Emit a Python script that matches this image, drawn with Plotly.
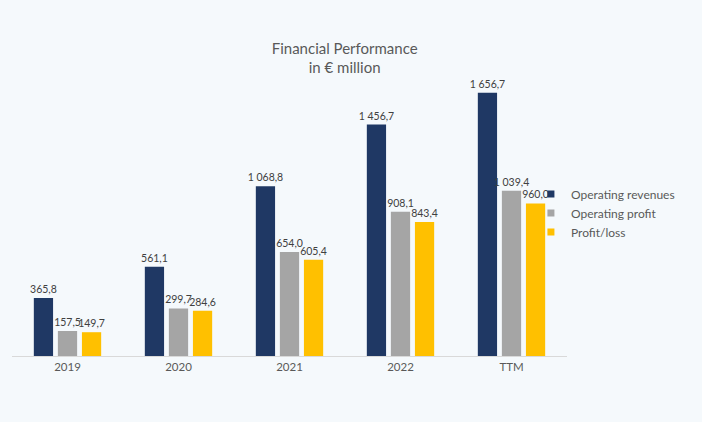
import plotly.graph_objects as go

categories = ["2019", "2020", "2021", "2022", "TTM"]
operating_revenues = [365.8, 561.1, 1068.8, 1456.7, 1656.7]
operating_profit = [157.5, 299.7, 654.0, 908.1, 1039.4]
profit_loss = [149.7, 284.6, 605.4, 843.4, 960.0]

series = [
    ("Operating revenues", operating_revenues, "#1F3864"),
    ("Operating profit", operating_profit, "#A5A5A5"),
    ("Profit/loss", profit_loss, "#FFC000"),
]


def fmt(v):
    # European style: space for thousands, comma for decimals
    return f"{v:,.1f}".replace(",", " ").replace(".", ",")


fig = go.Figure()
for name, values, colour in series:
    fig.add_trace(go.Bar(
        x=categories,
        y=values,
        name=name,
        showlegend=False,
        marker=dict(color=colour, line=dict(width=0)),
        text=[fmt(v) for v in values],
        textposition="outside",
        constraintext="none",
        textfont=dict(size=10.5, color="#404040"),
        cliponaxis=False,
        hoverinfo="skip",
    ))

# small square legend keys, like the original
for name, values, colour in series:
    fig.add_trace(go.Scatter(
        x=[None], y=[None],
        mode="markers",
        name=name,
        marker=dict(symbol="square", size=7, color=colour),
    ))

fig.update_layout(
    width=702,
    height=422,
    paper_bgcolor="#F5F9FC",
    plot_bgcolor="#F5F9FC",
    font=dict(family="Lato, 'Open Sans', sans-serif", color="#595959"),
    title=dict(
        text="Financial Performance<br>in € million",
        x=0.491, xanchor="center",
        y=0.873, yanchor="middle",
        font=dict(size=15, color="#595959"),
    ),
    barmode="group",
    bargap=0.35,
    bargroupgap=0.2,
    margin=dict(l=12, r=135, t=70, b=66),
    showlegend=True,
    legend=dict(
        x=0.935, xanchor="left",
        y=0.5, yanchor="middle",
        font=dict(size=12, color="#595959"),
        itemwidth=30,
        tracegroupgap=0,
        bgcolor="rgba(0,0,0,0)",
    ),
    xaxis=dict(
        showline=True, linecolor="#D9D9D9", linewidth=1,
        showgrid=False, ticks="",
        tickfont=dict(size=11.5, color="#595959"),
    ),
    yaxis=dict(
        range=[0, 1800], visible=False, showgrid=False,
    ),
)

fig.write_html(
    "out.html",
    config={"displayModeBar": False},
    post_script="document.body.style.margin='0';document.body.style.background='#F5F9FC';",
)
